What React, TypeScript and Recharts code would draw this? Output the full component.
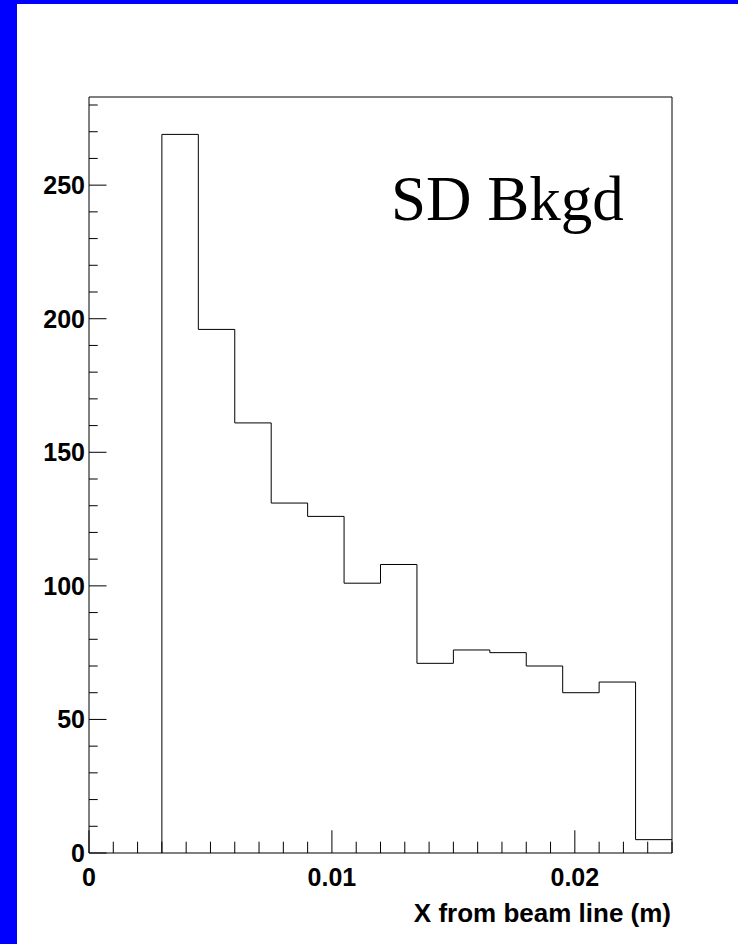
import React from "react";
import { LineChart, Line, XAxis, YAxis, ReferenceLine } from "recharts";

// Histogram: lower edges of bins (m) and counts per bin
const binLowEdges = [0.003, 0.0045, 0.006, 0.0075, 0.009, 0.0105, 0.012, 0.0135, 0.015, 0.0165, 0.018, 0.0195, 0.021, 0.0225];
const binUpperEdge = 0.024;
const counts = [269, 196, 161, 131, 126, 101, 108, 71, 76, 75, 70, 60, 64, 5];

const xMajorTicks = [0, 0.01, 0.02];
const xMajorLabels = ["0", "0.01", "0.02"];
const yMajorTicks = [0, 50, 100, 150, 200, 250];
const yMajorLabels = ["0", "50", "100", "150", "200", "250"];

const xDomain: [number, number] = [0, 0.024];
const yDomain: [number, number] = [0, 283];

const title = "SD Bkgd";
const xTitle = "X from beam line (m)";

const data = [
  { x: binLowEdges[0], count: 0 },
  ...binLowEdges.map((e, i) => ({ x: e, count: counts[i] })),
  { x: binUpperEdge, count: counts[counts.length - 1] },
];

const xTicks: number[] = [];
for (let i = 0; i <= 24; i++) xTicks.push(Number((i * 0.001).toFixed(3)));
const yTicks: number[] = [];
for (let v = 0; v <= 280; v += 10) yTicks.push(v);

const FONT = "'Liberation Sans', Arial, Helvetica, sans-serif";

const XTick = (props: any) => {
  const { x, y, payload } = props;
  const v = payload.value;
  const idx = xMajorTicks.findIndex((m) => Math.abs(m - v) < 1e-9);
  const major = idx >= 0;
  const len = major ? 22.7 : 11.3;
  return (
    <g>
      <line x1={x} y1={y} x2={x} y2={y - len} stroke="#000" strokeWidth={1} />
      {major && (
        <text x={x} y={y + 33} textAnchor="middle" fontFamily={FONT} fontWeight="bold" fontSize={25} fill="#000">
          {xMajorLabels[idx]}
        </text>
      )}
    </g>
  );
};

const YTick = (props: any) => {
  const { x, y, payload } = props;
  const v = payload.value;
  const idx = yMajorTicks.indexOf(v);
  const major = idx >= 0;
  const len = major ? 17.5 : 8.7;
  return (
    <g>
      <line x1={x} y1={y} x2={x + len} y2={y} stroke="#000" strokeWidth={1} />
      {major && (
        <text x={x - 4} y={y + 9} textAnchor="end" fontFamily={FONT} fontWeight="bold" fontSize={25} fill="#000">
          {yMajorLabels[idx]}
        </text>
      )}
    </g>
  );
};

export default function App() {
  return (
    <div style={{ position: "absolute", left: 0, top: 0, width: 738, height: 944, background: "#fff", overflow: "hidden" }}>
      <div style={{ position: "absolute", left: 0, top: 0 }}>
        <LineChart width={738} height={944} data={data} margin={{ top: 97, left: 88, right: 66, bottom: 90 }}>
          <XAxis
            dataKey="x"
            type="number"
            domain={xDomain}
            ticks={xTicks}
            interval={0}
            height={1}
            tickSize={0}
            tickMargin={0}
            tick={<XTick />}
            axisLine={{ stroke: "#000", strokeWidth: 1 }}
            tickLine={false}
            allowDataOverflow
          />
          <YAxis
            type="number"
            domain={yDomain}
            ticks={yTicks}
            interval={0}
            width={1}
            tickSize={0}
            tickMargin={0}
            tick={<YTick />}
            axisLine={{ stroke: "#000", strokeWidth: 1 }}
            tickLine={false}
            allowDataOverflow
          />
          <ReferenceLine y={yDomain[1]} stroke="#000" strokeWidth={1} />
          <ReferenceLine x={xDomain[1]} stroke="#000" strokeWidth={1} />
          <Line
            type="stepAfter"
            dataKey="count"
            stroke="#000"
            strokeWidth={1}
            dot={false}
            activeDot={false}
            isAnimationActive={false}
          />
        </LineChart>
      </div>
      <svg width={738} height={944} style={{ position: "absolute", left: 0, top: 0, pointerEvents: "none" }}>
        <text x={391} y={220} fontFamily="'Liberation Serif', 'Times New Roman', serif" fontSize={63} fill="#000">
          {title}
        </text>
        <text x={671} y={922} textAnchor="end" fontFamily={FONT} fontWeight="bold" fontSize={26} fill="#000">
          {xTitle}
        </text>
      </svg>
      <div style={{ position: "absolute", left: 0, top: 0, width: 17, height: 944, background: "#0000ff" }} />
      <div style={{ position: "absolute", left: 0, top: 0, width: 738, height: 4, background: "#0000ff" }} />
    </div>
  );
}
